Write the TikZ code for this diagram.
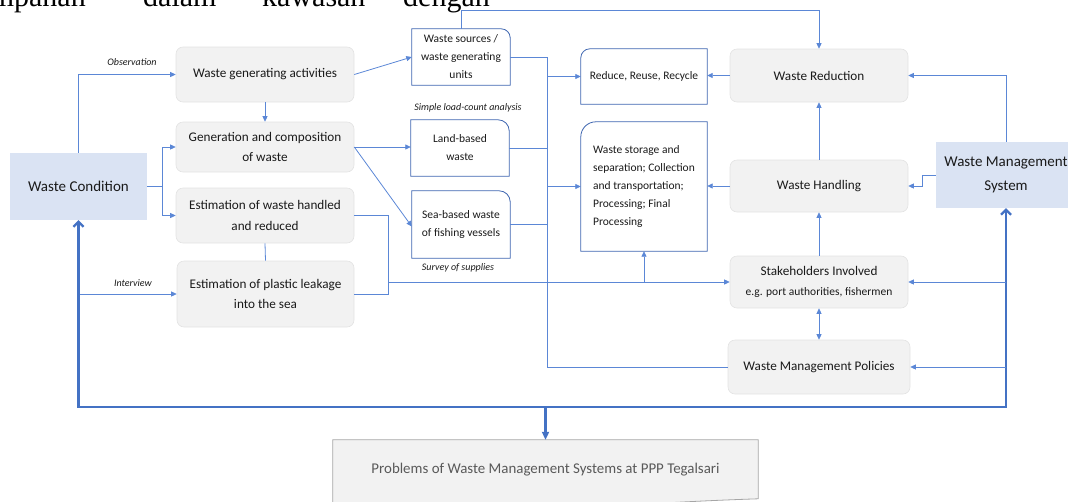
\documentclass[tikz,border=0pt]{standalone}
\usepackage{fontspec}
\setmainfont{Carlito}
\newfontfamily\topserif{Liberation Serif}
\usetikzlibrary{arrows.meta,calc}
\definecolor{lnblue}{HTML}{5B87D6}
\definecolor{dkblue}{HTML}{4472C4}
\definecolor{bxblue}{HTML}{3F66B0}
\definecolor{gfill}{HTML}{F2F2F2}
\definecolor{gdraw}{HTML}{E3E3E3}
\definecolor{wcfill}{HTML}{DAE3F3}
\definecolor{txt}{HTML}{1A1A1A}
\definecolor{ptxt}{HTML}{595959}
\definecolor{pdraw}{HTML}{A6A6A6}
\newcommand\boxTR[2]{\draw[bxline] (#1.south west) -- (#1.north west) -- ($(#1.north east)+(-#2,0)$) .. controls ($(#1.north east)+(-0.45*#2,0)$) and ($(#1.north east)+(0,0.45*#2)$) .. ($(#1.north east)+(0,#2)$) -- (#1.south east) -- cycle;}
\newcommand\boxTL[2]{\draw[bxline] (#1.south west) -- ($(#1.north west)+(0,#2)$) .. controls ($(#1.north west)+(0,0.45*#2)$) and ($(#1.north west)+(0.45*#2,0)$) .. ($(#1.north west)+(#2,0)$) -- (#1.north east) -- (#1.south east) -- cycle;}
\begin{document}
\begin{tikzpicture}[x=1pt,y=-1pt,
  gbox/.style={rounded corners=7pt, fill=gfill, draw=gdraw, line width=0.6pt, align=center, inner sep=0pt, text=txt, font=\fontsize{13.2}{20.5}\selectfont},
  wbox/.style={align=center, inner sep=0pt, text=txt, font=\fontsize{11.5}{18}\selectfont},
  bbox/.style={fill=wcfill, inner sep=0pt, align=center, text=txt, font=\fontsize{15}{23.5}\selectfont},
  bxline/.style={draw=bxblue, line width=0.8pt},
  conn/.style={draw=lnblue, line width=0.8pt, -{Triangle[length=5.5pt,width=5pt]}},
  connline/.style={draw=lnblue, line width=0.8pt},
  thk/.style={draw=dkblue, line width=2.2pt},
  lbl/.style={font=\fontsize{10}{11}\selectfont\itshape, text=txt, inner sep=0pt}]
\useasboundingbox (0,0) rectangle (1068,501);
\clip (0,0) rectangle (1068,501);
% cut page text at top
\node[anchor=base east, inner sep=0pt, font=\topserif\fontsize{30}{30}\selectfont] (t1) at (86,6) {ampanan};
\node[anchor=base west, inner sep=0pt, font=\topserif\fontsize{30}{30}\selectfont] (t2) at (143,6) {dalam};
\node[anchor=base west, inner sep=0pt, font=\topserif\fontsize{30}{30}\selectfont] (t3) at (262,6) {kawasan};
\node[anchor=base west, inner sep=0pt, font=\topserif\fontsize{30}{30}\selectfont] (t4) at (403,6) {dengan};

% side boxes
\node[bbox, minimum width=137pt, minimum height=67pt] (wc) at (78.5,186.5) {Waste Condition};
\node[bbox, minimum width=140pt, minimum height=66pt] (wms) at (1006,175) {Waste Management\\System};

% gray boxes
\node[gbox, minimum width=178pt, minimum height=55pt] (wga) at (265,74.5) {Waste generating activities};
\node[gbox, minimum width=178pt, minimum height=50pt] (gen) at (265,147) {Generation and composition\\of waste};
\node[gbox, minimum width=178pt, minimum height=55pt] (esth) at (265,215.5) {Estimation of waste handled\\and reduced};
\node[gbox, minimum width=177pt, minimum height=66pt] (estp) at (265.5,294) {Estimation of plastic leakage\\into the sea};
\node[gbox, minimum width=178pt, minimum height=53pt] (wred) at (819,75.5) {Waste Reduction};
\node[gbox, minimum width=178pt, minimum height=52pt] (whand) at (819,186) {Waste Handling};
\node[gbox, minimum width=178pt, minimum height=52pt] (stake) at (819,282) {Stakeholders Involved\\{\fontsize{11.5}{13}\selectfont e.g. port authorities, fishermen}};
\node[gbox, minimum width=182pt, minimum height=54pt] (wpol) at (819,367) {Waste Management Policies};

% white boxes
\node[wbox, minimum width=98pt, minimum height=56pt] (wsrc) at (461,57) {Waste sources /\\waste generating\\units};
\node[wbox, minimum width=126pt, minimum height=55pt] (rrr) at (644,76.5) {Reduce, Reuse, Recycle};
\node[wbox, minimum width=98pt, minimum height=56pt] (land) at (460,148) {Land-based\\waste};
\node[wbox, minimum width=98pt, minimum height=67pt] (sea) at (461,224.5) {Sea-based waste\\of fishing vessels};
\node[wbox, align=left, minimum width=126pt, minimum height=129pt] (store) at (644,186.5) {Waste storage and\\separation; Collection\\and transportation;\\Processing; Final\\Processing};
\boxTR{wsrc}{9}
\boxTL{rrr}{9}
\boxTR{land}{11}
\boxTR{sea}{11}
\boxTL{store}{15}

% labels
\node[lbl] (lobs) at (132,62) {Observation};
\node[lbl] (lint) at (133,283) {Interview};
\node[lbl] (lslc) at (468,108) {Simple load-count analysis};
\node[lbl] (lsos) at (458,268) {Survey of supplies};

% problems document shape
\node[inner sep=0pt, minimum width=425pt, minimum height=60pt] (prob) at (545.5,470) {};
\draw[fill=gfill, draw=pdraw, line width=0.8pt] (prob.north west) -- (prob.north east) -- ($(prob.north east)+(0,59)$) .. controls (690,501) and (600,506) .. (500,515) .. controls (440,520) and (380,530) .. ($(prob.north west)+(0,90)$) -- cycle;
\node[inner sep=0pt, text=ptxt, font=\fontsize{14.9}{17}\selectfont] (probt) at (prob.center) {Problems of Waste Management Systems at PPP Tegalsari};

% connectors left
\draw[conn] (wc.north) |- (wga.west);
\coordinate (j1) at (162,186.5);
\draw[connline] (wc.east) -- (j1);
\draw[conn] (j1) |- (gen.west);
\draw[conn] (j1) |- (esth.west);
\draw[conn] (wga.south) -- (gen.north);
\draw[connline] (esth.south) -- (estp.north);
\draw[conn] (wc.south |- estp.west) -- (estp.west);
\draw[conn] (wga.east) -- (wsrc.west);
\draw[conn] (gen.east) -- (gen.east -| land.west);
\draw[conn] (gen.east) -- ([yshift=-2pt]sea.west);
\coordinate (j2) at (388,282);
\coordinate (j3) at (388,294);
\draw[connline] (esth.east) -| (j3) -- (estp.east);
\draw[conn] (j2) -- (stake.west);
\draw[conn] (store.south |- j2) -- (store.south);

% trunk
\coordinate (tk) at (547,0);
\draw[connline] (wsrc.east) -| (tk |- wpol.west) -- (wpol.west);
\draw[connline] (land.east) -- (land.east -| tk);
\draw[connline] (sea.east) -- (sea.east -| tk);
\draw[conn] (tk |- rrr.west) -- (rrr.west);
\draw[conn] (tk |- store.west) -- (store.west);

% top line
\coordinate (tp) at (0,10);
\draw[conn] (wsrc.north) |- (tp -| wred.north) -- (wred.north);

% right column
\draw[conn] (wred.west) -- (wred.west -| rrr.east);
\draw[conn] (whand.west) -- (whand.west -| store.east);
\draw[conn] (whand.north) -- (wred.south);
\draw[conn] (stake.north) -- (whand.south);
\draw[connline, {Triangle[length=5.5pt,width=5pt]}-{Triangle[length=5.5pt,width=5pt]}] (stake.south) -- (wpol.north);
\draw[conn] (wms.north) |- (wred.east);
\draw[conn] (wms.west) -- ++(-13,0) |- (whand.east);

% thick loop
\coordinate (lb) at (78.5,407);
\coordinate (rb) at (1006,407);
\draw[thk, {Straight Barb[length=5pt,width=10pt]}-{Straight Barb[length=5pt,width=10pt]}] (wc.south) -- (lb) -- (rb) -- (wms.south);
\draw[thk, -{Triangle[length=8pt,width=7pt]}] (prob.north |- lb) -- (prob.north);
\draw[conn] (wms.south |- stake.east) -- (stake.east);
\draw[conn] (wms.south |- wpol.east) -- (wpol.east);
\end{tikzpicture}
\end{document}
